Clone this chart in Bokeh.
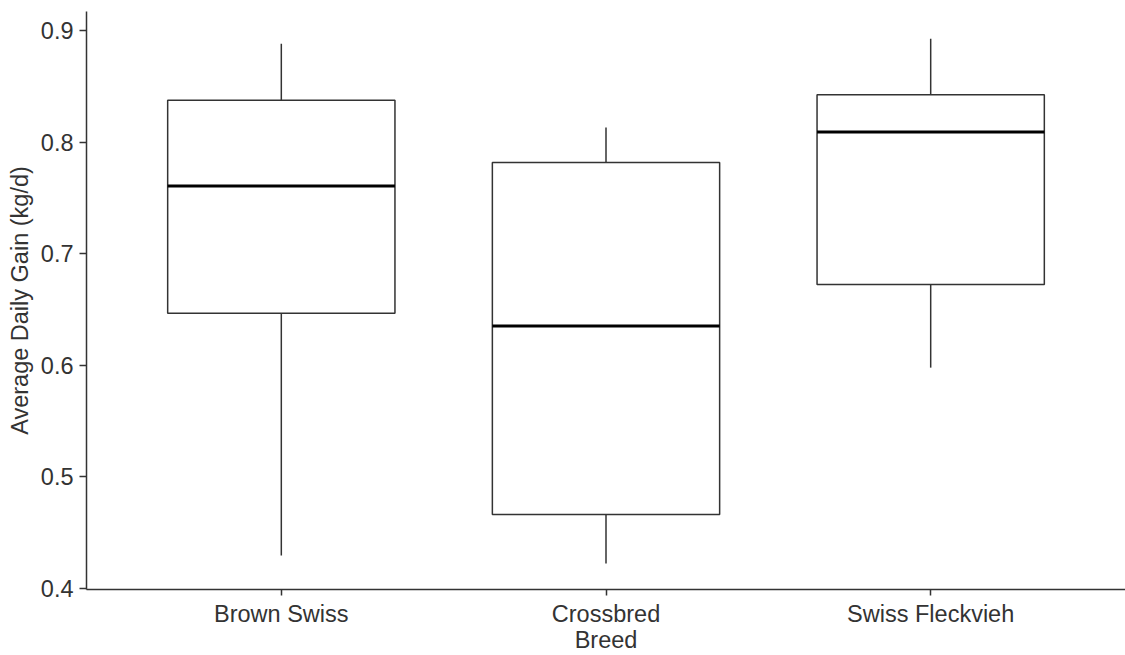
from bokeh.plotting import figure
from bokeh.models import Range1d, FixedTicker, ColumnDataSource
from bokeh.embed import file_html
from bokeh.resources import INLINE

# ---- data ----
breeds = ["Brown Swiss", "Crossbred", "Swiss Fleckvieh"]
lower_whisker = [0.4295, 0.4224, 0.5979]
q1 = [0.6466, 0.4662, 0.6725]
median = [0.7607, 0.6352, 0.8090]
q3 = [0.8374, 0.7817, 0.8425]
upper_whisker = [0.8881, 0.8130, 0.8926]
y_ticks = [0.4, 0.5, 0.6, 0.7, 0.8, 0.9]
x_title = "Breed"
y_title = "Average Daily Gain (kg/d)"

BOX_W = 0.7
xpos = [i + 1 for i in range(len(breeds))]

src = ColumnDataSource(dict(
    x=xpos, lo=lower_whisker, q1=q1, med=median, q3=q3, hi=upper_whisker,
    xl=[x - BOX_W / 2 for x in xpos], xr=[x + BOX_W / 2 for x in xpos],
))

FONT = "Liberation Sans"
TXT = "#333333"
LINE = "#333333"
FS = "23.5px"

p = figure(width=1125, height=655, output_backend="svg", toolbar_location=None,
           x_range=Range1d(0.4, 3.6), y_range=Range1d(0.39911, 0.9170),
           min_border_left=86, min_border_right=0, min_border_top=11,
           min_border_bottom=65)
p.outline_line_color = None
p.xgrid.visible = False
p.ygrid.visible = False
p.background_fill_color = "white"
p.border_fill_color = "white"

# whiskers
p.segment(x0="x", y0="q3", x1="x", y1="hi", source=src, line_color=LINE, line_width=1.5)
p.segment(x0="x", y0="q1", x1="x", y1="lo", source=src, line_color=LINE, line_width=1.5)
# boxes
p.vbar(x="x", width=BOX_W, bottom="q1", top="q3", source=src,
       fill_color="white", line_color=LINE, line_width=1.5)
# medians
p.segment(x0="xl", y0="med", x1="xr", y1="med", source=src, line_color="black", line_width=3)

# axes
mid = len(breeds) // 2
labels = {x: b for x, b in zip(xpos, breeds)}
# the x-axis title sits directly under the middle category label (as in the reference)
labels[xpos[mid]] = breeds[mid] + "\n" + x_title
p.xaxis.ticker = FixedTicker(ticks=xpos)
p.xaxis.major_label_overrides = labels
p.yaxis.ticker = FixedTicker(ticks=y_ticks)
p.yaxis.axis_label = y_title

for ax in (p.xaxis[0], p.yaxis[0]):
    ax.axis_line_color = LINE
    ax.axis_line_width = 1.5
    ax.major_tick_line_color = LINE
    ax.major_tick_line_width = 1.5
    ax.major_tick_in = 0
    ax.minor_tick_line_color = None
    ax.major_label_text_font = FONT
    ax.major_label_text_font_size = FS
    ax.major_label_text_color = TXT
    ax.axis_label_text_font = FONT
    ax.axis_label_text_font_size = FS
    ax.axis_label_text_font_style = "normal"
    ax.axis_label_text_color = TXT

p.yaxis.major_tick_out = 7
p.yaxis.major_label_standoff = 6
p.yaxis.axis_label_standoff = 5
p.xaxis.major_tick_out = 6
p.xaxis.major_label_standoff = 5
p.xaxis.major_label_text_line_height = 1.0

open("out.html", "w").write(file_html(p, INLINE))
